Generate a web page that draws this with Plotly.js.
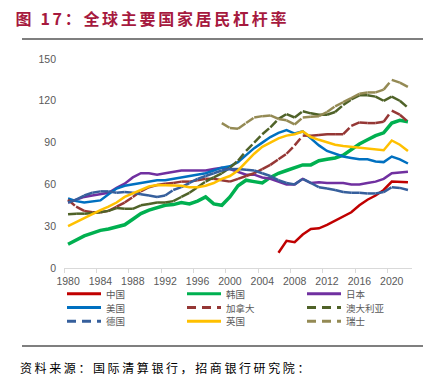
<!DOCTYPE html>
<html><head><meta charset="utf-8">
<script src="https://cdn.plot.ly/plotly-3.0.1.min.js"></script>
<style>
html,body{margin:0;padding:0;background:#fff;}
#chart{width:435px;height:389px;}
g.annotation[data-index="0"] text{letter-spacing:2.6px;}
g.annotation[data-index="1"] text{letter-spacing:2.7px;}
g.annotation text.legtxt{letter-spacing:0.5px;}
</style>
</head><body><div id="chart"></div>
<script>
// ---- data ----
const years = [1980,1981,1982,1983,1984,1985,1986,1987,1988,1989,
               1990,1991,1992,1993,1994,1995,1996,1997,1998,1999,
               2000,2001,2002,2003,2004,2005,2006,2007,2008,2009,
               2010,2011,2012,2013,2014,2015,2016,2017,2018,2019,
               2020,2021,2022];
const tickYears = [1980,1984,1988,1992,1996,2000,2004,2008,2012,2016,2020];
const yTicks = [0,30,60,90,120,150];

const china = [null,null,null,null,null,null,null,null,null,null,
               null,null,null,null,null,null,null,null,null,null,
               null,null,null,null,null,null,11,19.5,18.5,24,
               28,28.5,31,34,37,40,45,49,52,56,
               62,62,61.5];
const korea = [17,20,23,25,27,28,29.5,31,35,39,
               41.5,43.5,45,45.5,47,46,48,51,46,45,
               51,59,63,62,61,65,68,70,72,74,
               74,77,78,79,81,85,89,92,95,97,
               104,106,105];
const japan = [47,49,51,52,53,54,57.5,60.5,65,68,
               68,67,68,69,70,70,70,70,71,72,
               71,69,67,67,65,64,62,60,60,64,
               61,61.5,61,61,61,60,60,61,62,64,
               68,68.5,69];
const usa   = [50,48,47,48,48.5,53,57,59,60,61,
               62,63,63,64,65,66,67,68,70,72,
               73,76,81,86,90,94,97,99,96.5,98,
               93,88,84,82,80,79,78,78,76.5,76,
               80,78,75];
const canada= [49,44,41,40,40,41,44,47,51,55,
               58,59.5,60.5,61,62,62,63,64,64,63,
               62,64,66,68,71,74,78,82,88,95,
               95,95.5,96,96,96,102,104.5,104,104,105,
               113,110,105];
const australia=[38.5,39,39,39.5,40,41,43,42.5,42.5,45,
               46,47,47,48,51,54,58,62,65,68,
               72,77,84,90,96,101,107,110.5,108,112.5,
               111,110,110,112,117,121,124,124,123,120,
               123,120,115];
const germany=[47,49,52,54,55,55,54,54.5,54,53,
               52,51,52,56,58,61,64,66,68,70,
               71,71,70.5,70,68,66,63,61,60,64,
               61,58,57,56,54.5,54,54,53.5,53.5,54.5,
               58,57.5,56];
const uk    = [30,33,36,39,41.5,44,47,51,53.5,56.5,
               58.5,59.5,59.5,59,59,58,58,59,61,64,
               66,70,76,82,87,90,93,95,96,98,
               94,92,90,88.5,87.5,87,86.5,86,85.5,84.5,
               91.5,88.5,84];
const swiss = [null,null,null,null,null,null,null,null,null,null,
               null,null,null,null,null,null,null,null,null,104,
               100.5,100,104,108,109,109.5,107,106,103,108,
               108.5,109,112,116,119,122,125,126,126,128,
               135,133,130];

const names  = ['中国','韩国','日本','美国','加拿大','澳大利亚','德国','英国','瑞士'];
const values = [china,korea,japan,usa,canada,australia,germany,uk,swiss];
const colors = ['#C00000','#00B050','#7030A0','#0070C0','#953735','#4F6228','#365F9C','#FFC000','#948A54'];
const dashed = [false,false,false,false,true,true,true,false,true];
const widths = [2.5,3.5,2.5,2.5,2.5,2.5,2.5,2.5,2.5];

// ---- geometry ----
const W=435,H=389, L=64, R=23, T=59, B=121;
const PW=W-L-R, PH=H-T-B;
const px2x = p => (p-L)/PW;
const py2y = p => (H-B-p)/PH;
const DASH = '9px,6px';

const traces = [];
values.forEach((v,k)=>{
  if(!dashed[k]){
    traces.push({x:years,y:v,type:'scatter',mode:'lines',name:names[k],
      line:{color:colors[k],width:widths[k]},connectgaps:false,showlegend:false,hoverinfo:'skip'});
  } else {
    for(let i=0;i<v.length-1;i++){
      if(v[i]==null||v[i+1]==null) continue;
      traces.push({x:[years[i],years[i+1]],y:[v[i],v[i+1]],type:'scatter',mode:'lines',name:names[k],
        line:{color:colors[k],width:widths[k],dash:DASH},showlegend:false,hoverinfo:'skip'});
    }
  }
});

const shapes = [
  {type:'line',xref:'paper',yref:'paper',x0:px2x(22),x1:px2x(423),y0:py2y(39),y1:py2y(39),line:{color:'#000',width:1.2}},
  {type:'line',xref:'paper',yref:'paper',x0:px2x(22),x1:px2x(423),y0:py2y(346),y1:py2y(346),line:{color:'#000',width:1.2}}
];
const annotations = [
  {text:'资料来源：国际清算银行，招商银行研究院：',xref:'paper',yref:'paper',x:px2x(166),y:py2y(367),
   xanchor:'center',yanchor:'middle',showarrow:false,font:{family:'Noto Sans CJK SC',size:12,color:'#000'}},
  {text:'<b>图 17：全球主要国家居民杠杆率</b>',xref:'paper',yref:'paper',x:px2x(152.5),y:py2y(18.3),
   xanchor:'center',yanchor:'middle',showarrow:false,font:{family:'Noto Sans CJK SC',size:16,color:'#A6193E'}}
];
// legend drawn as shapes + text
const rowStep = 13.8, row0 = 293.7;
names.forEach((n,k)=>{
  const row=Math.floor(k/3), col=k%3;
  const yy=row0+row*rowStep, x0=67+col*120;
  shapes.push({type:'line',xref:'paper',yref:'paper',x0:px2x(x0),x1:px2x(x0+34),y0:py2y(yy),y1:py2y(yy),
    line:{color:colors[k],width:3,dash:dashed[k]?DASH:'solid'}});
  annotations.push({text:n,xref:'paper',yref:'paper',x:px2x(x0+38),y:py2y(yy),xanchor:'left',yanchor:'middle',
    showarrow:false,borderpad:0,font:{family:'Noto Sans CJK SC',size:9.5,color:'#595959'}});
});

const minorVals = tickYears.map(y=>y-0.5);

const layout = {
  width:W,height:H,margin:{l:L,r:R,t:T,b:B},
  paper_bgcolor:'#fff',plot_bgcolor:'#fff',showlegend:false,
  xaxis:{range:[1979.5,2022.5],tickmode:'array',tickvals:tickYears,ticktext:tickYears.map(String),
    ticks:'',showline:true,linecolor:'#D9D9D9',linewidth:1,showgrid:false,zeroline:false,ticklabelstandoff:3,
    tickfont:{family:'Liberation Sans',size:10.5,color:'#595959'},
    minor:{tickmode:'array',tickvals:minorVals,ticks:'outside',ticklen:4,tickcolor:'#D9D9D9',tickwidth:1,showgrid:false}},
  yaxis:{range:[0,150],tickmode:'array',tickvals:yTicks,ticks:'',showline:false,showgrid:false,zeroline:false,
    tickfont:{family:'Liberation Sans',size:10.5,color:'#595959'},ticklabelstandoff:7},
  shapes:shapes,annotations:annotations
};
Plotly.newPlot('chart',traces,layout,{staticPlot:true,displayModeBar:false});
</script></body></html>
